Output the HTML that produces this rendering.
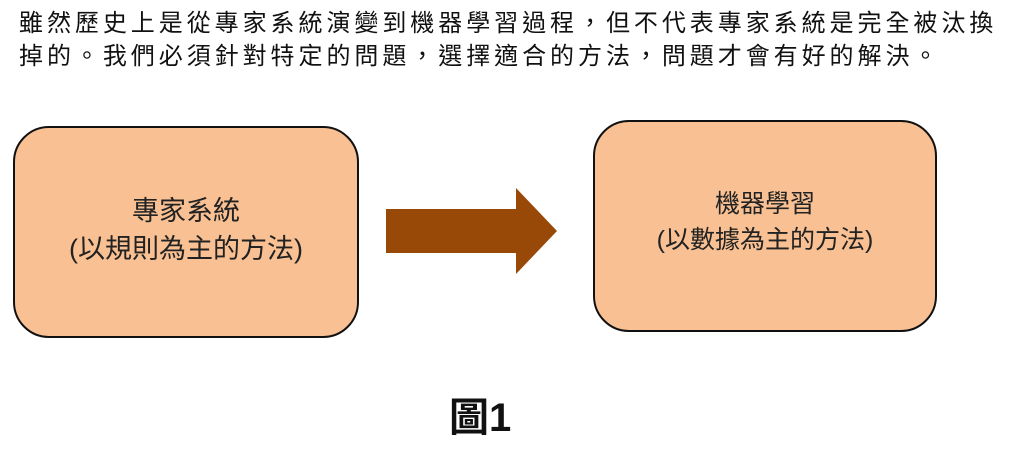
<!DOCTYPE html>
<html><head><meta charset="utf-8"><style>
html,body{margin:0;padding:0;background:#fff;width:1024px;height:473px;overflow:hidden;position:relative;font-family:"Liberation Sans","Noto Sans CJK TC",sans-serif;color:#111}
.t{position:absolute;left:19px;font-size:24px;white-space:nowrap;line-height:1;letter-spacing:3.95px}
.box{position:absolute;background:#F9C193;border:2.5px solid #111;border-radius:36px;box-sizing:border-box;display:flex;align-items:center;justify-content:center;text-align:center;}
.box div{font-size:25px;line-height:36px;color:#222}
</style></head><body>
<div class="t" style="top:12px">雖然歷史上是從專家系統演變到機器學習過程，但不代表專家系統是完全被汰換</div>
<div class="t" style="top:45px">掉的。我們必須針對特定的問題，選擇適合的方法，問題才會有好的解決。</div>
<div class="box" style="left:13px;top:126px;width:346px;height:212px"><div style="margin-bottom:4px;font-size:27px;line-height:38px">專家系統<br>(以規則為主的方法)</div></div>
<svg style="position:absolute;left:0;top:0" width="1024" height="473"><polygon points="386,209 516,209 516,188 557,231 516,274 516,253 386,253" fill="#984807"/></svg>
<div class="box" style="left:593px;top:120px;width:344px;height:212px"><div style="margin-bottom:8px">機器學習<br>(以數據為主的方法)</div></div>
<div style="position:absolute;left:449px;top:398px;font-size:40px;font-weight:bold;line-height:1">圖1</div>
</body></html>
